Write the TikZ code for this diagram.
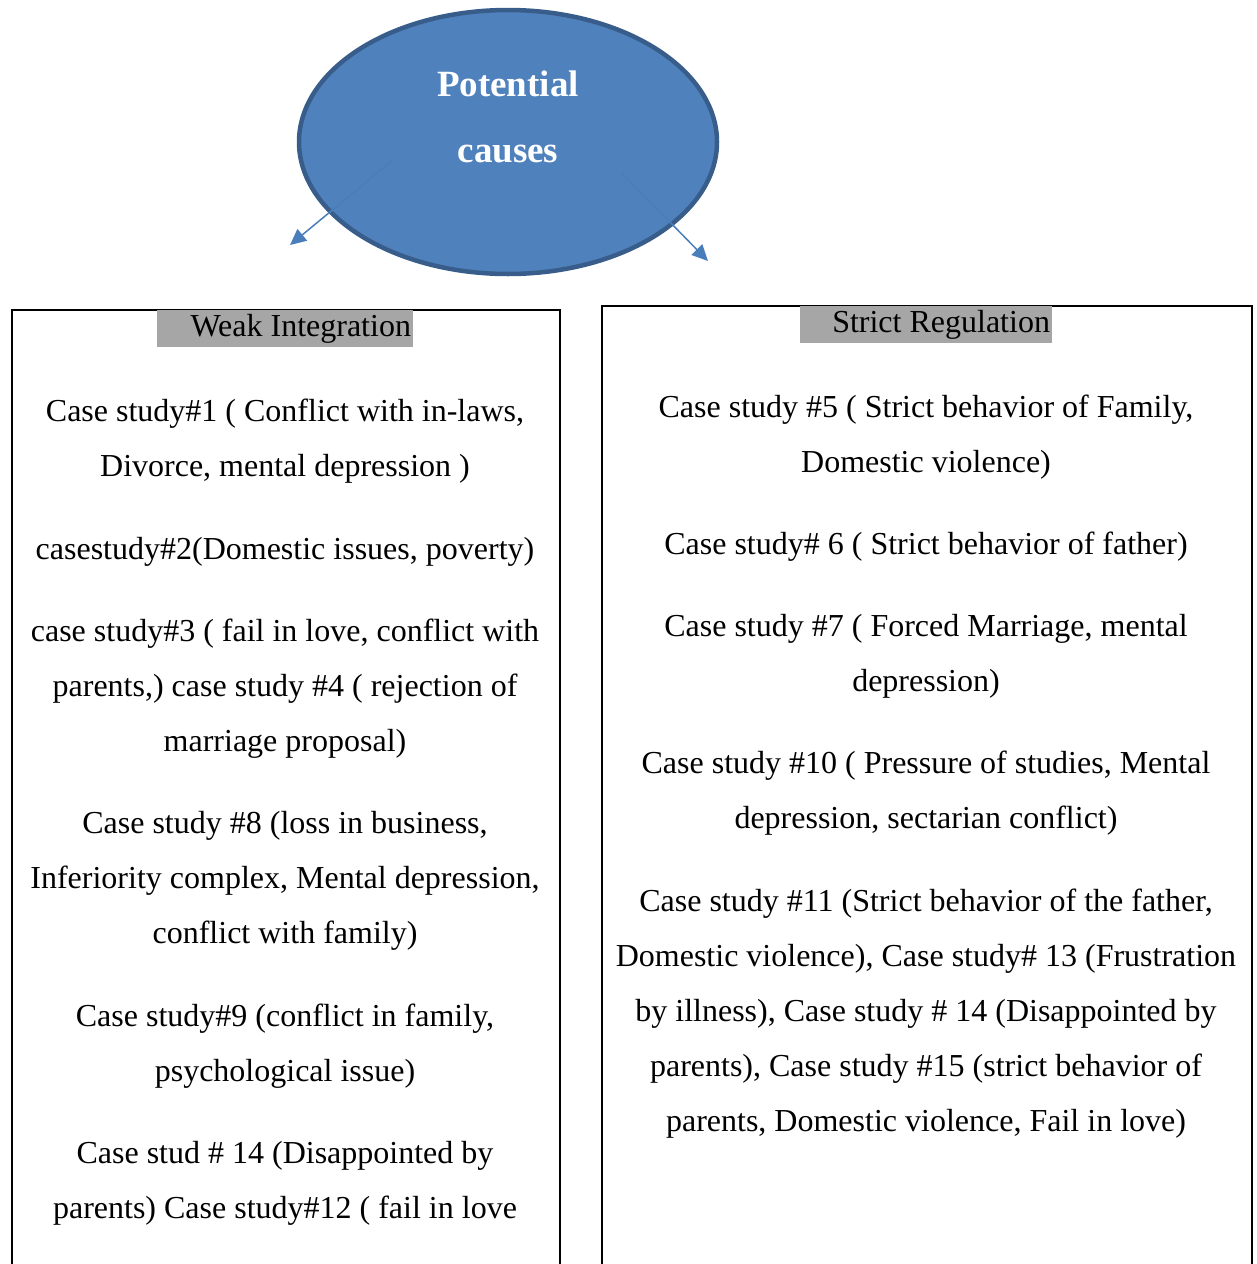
\documentclass[tikz,border=0pt]{standalone}
\usepackage{fontspec}
\setmainfont{Liberation Serif}
\usetikzlibrary{arrows.meta,shapes.geometric}
\definecolor{ellfill}{HTML}{4F81BD}
\definecolor{elldraw}{HTML}{385D8A}
\definecolor{arrcol}{HTML}{4A7EBB}
\definecolor{hdrgray}{HTML}{A6A6A6}
\tikzset{
  txt/.style={anchor=base, inner sep=0pt, font=\fontsize{32}{40}\selectfont},
  ttl/.style={anchor=base, inner sep=0pt, text=white, font=\fontsize{37}{44}\selectfont\bfseries},
  hdr/.style={fill=hdrgray, inner sep=0pt, minimum height=37pt, font=\fontsize{32}{40}\selectfont},
  colbox/.style={draw=black, line width=2pt, anchor=north west, inner sep=0pt},
  arr/.style={draw=arrcol, line width=1.5pt, -{Triangle[length=16pt,width=15pt]}},
}
\begin{document}
\begin{tikzpicture}[x=1pt,y=-1pt]
\useasboundingbox (0,0) rectangle (1256,1264);
\clip (0,0) rectangle (1256,1264);
% ellipse
\node[ellipse, fill=ellfill, draw=elldraw, line width=4.5pt, minimum width=418pt, minimum height=264pt, inner sep=0pt] (pc) at (508,142) {};
\node[ttl] (t1) at (508,96) {Potential};
\node[ttl] (t2) at (508,162) {causes};
\coordinate (la) at (393,160);
\coordinate (lb) at (290,245);
\coordinate (ra) at (622,173);
\coordinate (rb) at (708,261);
\draw[arr] (la) -- (lb);
\draw[arr] (ra) -- (rb);
% boxes
\node[colbox, minimum width=548pt, minimum height=1000pt] (lbox) at (11,309) {};
\node[colbox, minimum width=650pt, minimum height=1000pt] (rbox) at (601,305) {};
% headers
\node[hdr, minimum width=256pt] (lh) at (285,328.5) {\makebox[256pt][r]{\raisebox{-2pt}{Weak Integration}\hspace{2pt}}};
\node[hdr, minimum width=252pt] (rh) at (926,324.5) {\makebox[252pt][r]{\raisebox{-2pt}{Strict Regulation}\hspace{2pt}}};
% left column
\node[txt] (l1) at (285,421) {Case study\#1 ( Conflict with in-laws,};
\node[txt] (l2) at (285,476) {Divorce, mental depression )};
\node[txt] (l3) at (285,559) {casestudy\#2(Domestic issues, poverty)};
\node[txt] (l4) at (285,641) {case study\#3 ( fail in love, conflict with};
\node[txt] (l5) at (285,696) {parents,) case study \#4 ( rejection of};
\node[txt] (l6) at (285,751) {marriage proposal)};
\node[txt] (l7) at (285,833) {Case study \#8 (loss in business,};
\node[txt] (l8) at (285,888) {Inferiority complex, Mental depression,};
\node[txt] (l9) at (285,943) {conflict with family)};
\node[txt] (l10) at (285,1026) {Case study\#9 (conflict in family,};
\node[txt] (l11) at (285,1081) {psychological issue)};
\node[txt] (l12) at (285,1163) {Case stud \# 14 (Disappointed by};
\node[txt] (l13) at (285,1218) {parents) Case study\#12 ( fail in love};
% right column
\node[txt] (r1) at (926,417) {Case study \#5 ( Strict behavior of Family,};
\node[txt] (r2) at (926,472) {Domestic violence)};
\node[txt] (r3) at (926,554) {Case study\# 6 ( Strict behavior of father)};
\node[txt] (r4) at (926,636) {Case study \#7 ( Forced Marriage, mental};
\node[txt] (r5) at (926,691) {depression)};
\node[txt] (r6) at (926,773) {Case study \#10 ( Pressure of studies, Mental};
\node[txt] (r7) at (926,828) {depression, sectarian conflict)};
\node[txt] (r8) at (926,911) {Case study \#11 (Strict behavior of the father,};
\node[txt] (r9) at (926,966) {Domestic violence), Case study\# 13 (Frustration};
\node[txt] (r10) at (926,1021) {by illness), Case study \# 14 (Disappointed by};
\node[txt] (r11) at (926,1076) {parents), Case study \#15 (strict behavior of};
\node[txt] (r12) at (926,1131) {parents, Domestic violence, Fail in love)};
\end{tikzpicture}
\end{document}
